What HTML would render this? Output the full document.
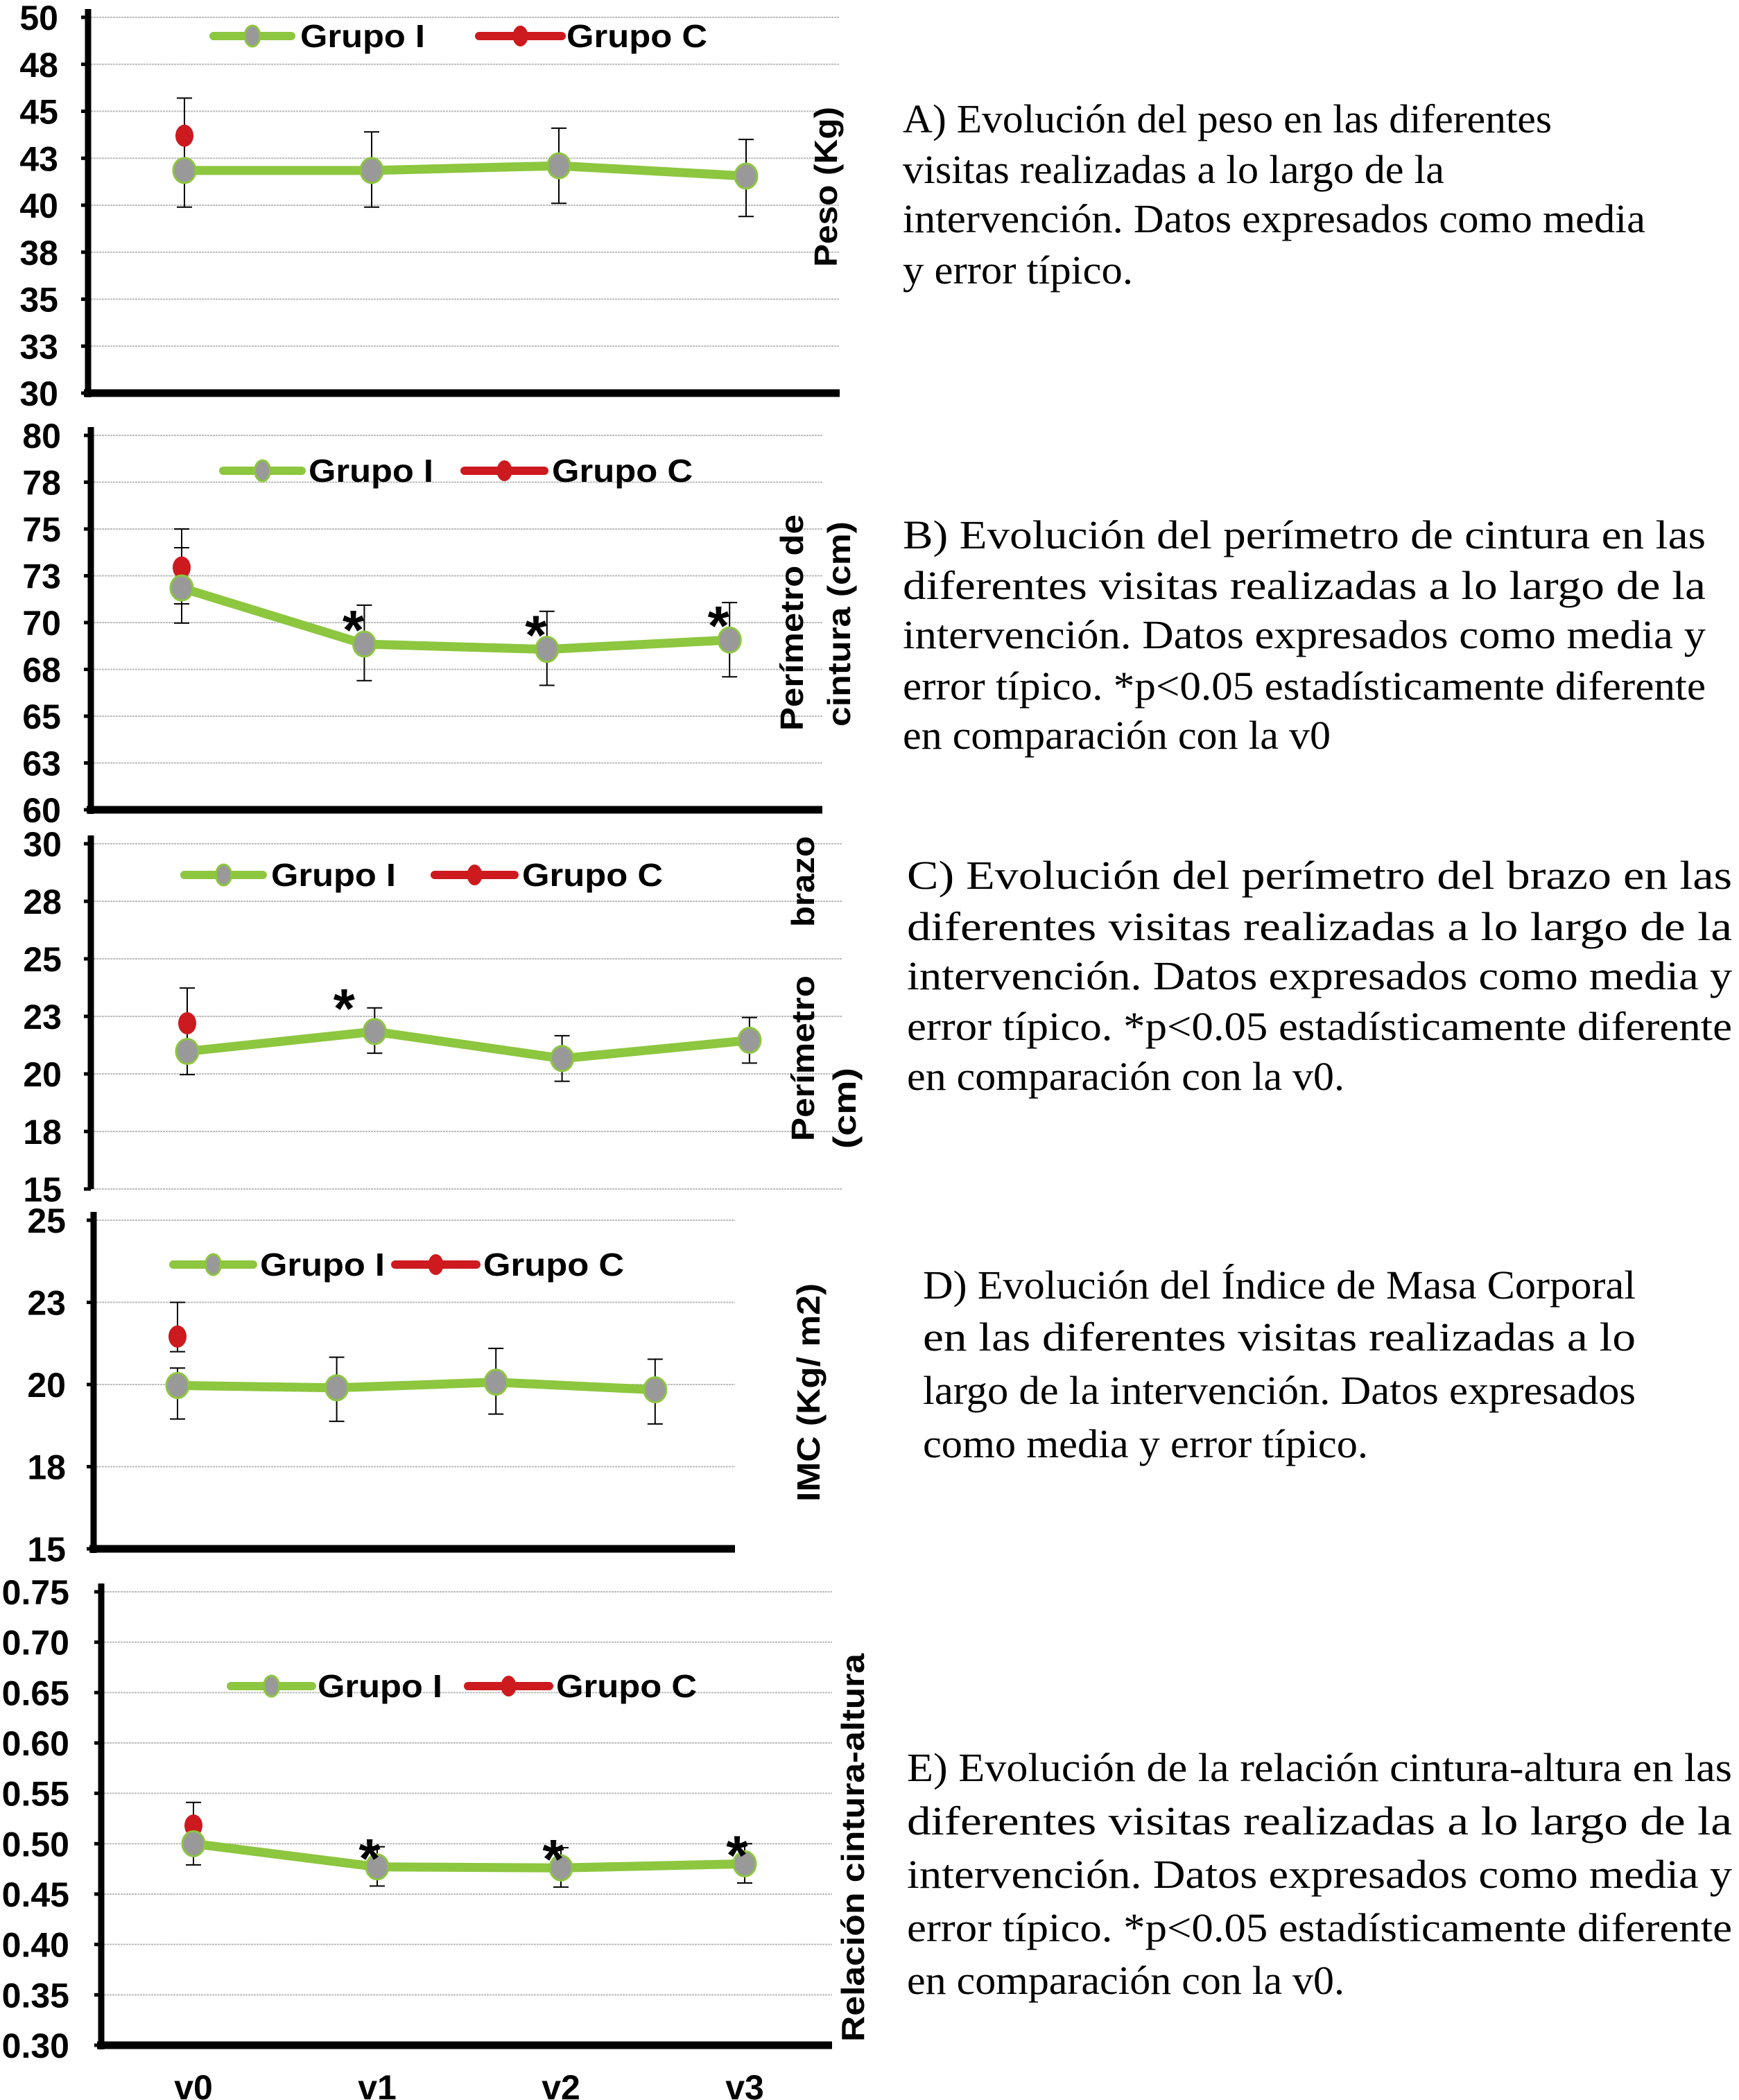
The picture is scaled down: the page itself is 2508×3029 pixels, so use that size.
<!DOCTYPE html>
<html><head><meta charset="utf-8">
<style>
html,body{margin:0;padding:0;background:#fff;}
svg{display:block;}
.tick{font-family:"Liberation Sans",sans-serif;font-weight:bold;font-size:50px;fill:#000;}
.leg{font-family:"Liberation Sans",sans-serif;font-weight:bold;font-size:46px;fill:#000;}
.ttl{font-family:"Liberation Sans",sans-serif;font-weight:bold;font-size:46px;fill:#000;}
.cap{font-family:"Liberation Serif",serif;font-size:58px;fill:#000;}
</style></head>
<body>
<svg id="fig" width="2508" height="3029" viewBox="0 0 2508 3029" xmlns="http://www.w3.org/2000/svg">
<g id="charts"></g>
<g id="captions">
 <g>
  <text class="cap" x="1302" y="191" textLength="936" lengthAdjust="spacingAndGlyphs">A) Evolución del peso en las diferentes</text>
  <text class="cap" x="1302" y="264" textLength="781" lengthAdjust="spacingAndGlyphs">visitas realizadas a lo largo de la</text>
  <text class="cap" x="1302" y="335" textLength="1071" lengthAdjust="spacingAndGlyphs">intervención. Datos expresados como media</text>
  <text class="cap" x="1302" y="409" textLength="332" lengthAdjust="spacingAndGlyphs">y error típico.</text>
 </g>
 <g>
  <text class="cap" x="1302" y="791" textLength="1158" lengthAdjust="spacingAndGlyphs">B) Evolución del perímetro de cintura en las</text>
  <text class="cap" x="1302" y="864" textLength="1158" lengthAdjust="spacingAndGlyphs">diferentes visitas realizadas a lo largo de la</text>
  <text class="cap" x="1302" y="935" textLength="1158" lengthAdjust="spacingAndGlyphs">intervención. Datos expresados como media y</text>
  <text class="cap" x="1302" y="1009" textLength="1158" lengthAdjust="spacingAndGlyphs">error típico. *p&lt;0.05 estadísticamente diferente</text>
  <text class="cap" x="1302" y="1080" textLength="617" lengthAdjust="spacingAndGlyphs">en comparación con la v0</text>
 </g>
 <g>
  <text class="cap" x="1308" y="1282" textLength="1190" lengthAdjust="spacingAndGlyphs">C) Evolución del perímetro del brazo en las</text>
  <text class="cap" x="1308" y="1356" textLength="1190" lengthAdjust="spacingAndGlyphs">diferentes visitas realizadas a lo largo de la</text>
  <text class="cap" x="1308" y="1427" textLength="1190" lengthAdjust="spacingAndGlyphs">intervención. Datos expresados como media y</text>
  <text class="cap" x="1308" y="1500" textLength="1190" lengthAdjust="spacingAndGlyphs">error típico. *p&lt;0.05 estadísticamente diferente</text>
  <text class="cap" x="1308" y="1572" textLength="631" lengthAdjust="spacingAndGlyphs">en comparación con la v0.</text>
 </g>
 <g>
  <text class="cap" x="1331" y="1873" textLength="1028" lengthAdjust="spacingAndGlyphs">D) Evolución del Índice de Masa Corporal</text>
  <text class="cap" x="1331" y="1948" textLength="1028" lengthAdjust="spacingAndGlyphs">en las diferentes visitas realizadas a lo</text>
  <text class="cap" x="1331" y="2025" textLength="1028" lengthAdjust="spacingAndGlyphs">largo de la intervención. Datos expresados</text>
  <text class="cap" x="1331" y="2102" textLength="642" lengthAdjust="spacingAndGlyphs">como media y error típico.</text>
 </g>
 <g>
  <text class="cap" x="1308" y="2569" textLength="1190" lengthAdjust="spacingAndGlyphs">E) Evolución de la relación cintura-altura en las</text>
  <text class="cap" x="1308" y="2646" textLength="1190" lengthAdjust="spacingAndGlyphs">diferentes visitas realizadas a lo largo de la</text>
  <text class="cap" x="1308" y="2723" textLength="1190" lengthAdjust="spacingAndGlyphs">intervención. Datos expresados como media y</text>
  <text class="cap" x="1308" y="2800" textLength="1190" lengthAdjust="spacingAndGlyphs">error típico. *p&lt;0.05 estadísticamente diferente</text>
  <text class="cap" x="1308" y="2876" textLength="631" lengthAdjust="spacingAndGlyphs">en comparación con la v0.</text>
 </g>
</g>
</svg>
<script>
// ---- data ----
const categories = ['v0','v1','v2','v3'];
// Panel A: Peso (Kg)
const pesoTicks = ['30','33','35','38','40','43','45','48','50'];
const pesoI = [41.85, 41.85, 42.1, 41.55];
const pesoIHi = [43.8, 43.9, 44.1, 43.5];
const pesoILo = [39.9, 39.9, 40.1, 39.4];
const pesoC = [43.7];
const pesoCHi = [45.7];
const pesoCLo = [41.7];
const pesoStars = [];
// Panel B: Perímetro de cintura
const cinturaTicks = ['60','63','65','68','70','73','75','78','80'];
const cinturaI = [71.85, 68.85, 68.57, 69.07];
const cinturaIHi = [74.0, 70.93, 70.6, 71.07];
const cinturaILo = [69.97, 66.9, 66.65, 67.1];
const cinturaC = [72.94];
const cinturaCHi = [75.0];
const cinturaCLo = [71.0];
const cinturaStars = [1, 2, 3];
// Panel C: Perímetro del brazo
const brazoTicks = ['15','18','20','23','25','28','30'];
const brazoI = [20.98, 21.84, 20.67, 21.46];
const brazoIHi = [21.96, 22.87, 21.66, 22.45];
const brazoILo = [19.97, 20.9, 19.68, 20.47];
const brazoC = [22.2];
const brazoCHi = [23.73];
const brazoCLo = [20.7];
const brazoStars = [1];
// Panel D: IMC
const imcTicks = ['15','18','20','23','25'];
const imcI = [19.97, 19.9, 20.07, 19.84];
const imcIHi = [20.5, 20.83, 21.1, 20.77];
const imcILo = [18.95, 18.88, 19.1, 18.8];
const imcC = [21.46];
const imcCHi = [22.5];
const imcCLo = [21.0];
const imcStars = [];
// Panel E: Relación cintura-altura
const rcaTicks = ['0.30','0.35','0.40','0.45','0.50','0.55','0.60','0.65','0.70','0.75'];
const rcaI = [0.50, 0.477, 0.476, 0.48];
const rcaIHi = [0.52, 0.497, 0.496, 0.50];
const rcaILo = [0.479, 0.458, 0.457, 0.461];
const rcaC = [0.518];
const rcaCHi = [0.541];
const rcaCLo = [0.495];
const rcaStars = [1, 2, 3];

const NS = 'http://www.w3.org/2000/svg';
const root = document.getElementById('charts');
function mk(tag, attrs, parent){
  const e = document.createElementNS(NS, tag);
  for (const k in attrs) e.setAttribute(k, attrs[k]);
  (parent || root).appendChild(e);
  return e;
}
const GREEN = '#8DC63F', RED = '#CC1A1F', GRAY = '#999999';

function panel(cfg){
  const g = mk('g', {});
  
  
  const min = parseFloat(cfg.ticks[0]), max = parseFloat(cfg.ticks[cfg.ticks.length-1]);
  const y = v => cfg.bottom - (v - min) / (max - min) * (cfg.bottom - cfg.top);
  const x = i => cfg.x0 + i * cfg.dx;
  cfg.ticks.forEach((t, k) => {
    const yy = cfg.bottom - k * (cfg.bottom - cfg.top) / (cfg.ticks.length - 1);
    const gl = mk('line', {x1: cfg.axisX, x2: cfg.gridRight, y1: yy, y2: yy, stroke: '#bdbdbd', 'stroke-width': 2, 'stroke-dasharray': '3 1'}, g);
    
    
    const tm = mk('line', {x1: cfg.axisX - 10, x2: cfg.axisX, y1: yy, y2: yy, stroke: '#000', 'stroke-width': 5}, g);
    
    
    const tl = mk('text', {x: cfg.labelRight, y: yy + 18, 'text-anchor': 'end', class: 'tick'}, g);
    tl.textContent = t;
    
    
  });
  const ax = mk('line', {x1: cfg.axisX, x2: cfg.axisX, y1: cfg.top - 12, y2: cfg.bottom + (cfg.bottomAxis ? 6 : 0), stroke: '#000', 'stroke-width': 9}, g);
  
  
  if (cfg.bottomAxis){
    const bx = mk('line', {x1: cfg.axisX - 6, x2: cfg.gridRight, y1: cfg.bottom, y2: cfg.bottom, stroke: '#000', 'stroke-width': 11}, g);
    
    
  }
  function err(i, hi, lo){
    const xx = x(i);
    const e = mk('g', {stroke: '#000', 'stroke-width': 2}, g);
    
    
    mk('line', {x1: xx, x2: xx, y1: y(hi), y2: y(lo)}, e);
    mk('line', {x1: xx - 11, x2: xx + 11, y1: y(hi), y2: y(hi)}, e);
    mk('line', {x1: xx - 11, x2: xx + 11, y1: y(lo), y2: y(lo)}, e);
  }
  cfg.cHi.forEach((h, i) => err(i, h, cfg.cLo[i]));
  cfg.iHi.forEach((h, i) => err(i, h, cfg.iLo[i]));
  const pts = cfg.I.map((v, i) => x(i) + ',' + y(v)).join(' ');
  const pl = mk('polyline', {points: pts, fill: 'none', stroke: GREEN, 'stroke-width': 13, 'stroke-linejoin': 'round'}, g);
  
  
  cfg.C.forEach((v, i) => {
    const c = mk('ellipse', {cx: x(i), cy: y(v), rx: 13, ry: 16, fill: RED}, g);
    
    
  });
  cfg.I.forEach((v, i) => {
    const c = mk('ellipse', {cx: x(i), cy: y(v), rx: 16, ry: 18, fill: GRAY, stroke: GREEN, 'stroke-width': 3}, g);
    
    
  });
  cfg.stars.forEach(i => {
    const s = mk('text', {x: x(i) + cfg.starDx, y: y(cfg.I[i]) + cfg.starDy + 32, 'text-anchor': 'middle', class: 'tick', style: 'font-size:80px'}, g);
    s.textContent = '*';
    
    
  });
  const L = cfg.legend, ly = L[6];
  const lg = mk('g', {}, g);
  
  
  mk('line', {x1: L[0], x2: L[1], y1: ly, y2: ly, stroke: GREEN, 'stroke-width': 12, 'stroke-linecap': 'round'}, lg);
  mk('ellipse', {cx: (L[0] + L[1]) / 2, cy: ly, rx: 11, ry: 15, fill: GRAY, stroke: GREEN, 'stroke-width': 3}, lg);
  const t1 = mk('text', {x: L[2], y: ly + 16, class: 'leg', textLength: 180, lengthAdjust: 'spacingAndGlyphs'}, lg);
  t1.textContent = 'Grupo I';
  
  
  mk('line', {x1: L[3], x2: L[4], y1: ly, y2: ly, stroke: RED, 'stroke-width': 12, 'stroke-linecap': 'round'}, lg);
  mk('ellipse', {cx: (L[3] + L[4]) / 2, cy: ly, rx: 11, ry: 15, fill: RED}, lg);
  const t2 = mk('text', {x: L[5], y: ly + 16, class: 'leg', textLength: 203, lengthAdjust: 'spacingAndGlyphs'}, lg);
  t2.textContent = 'Grupo C';
  
  
  cfg.titles.forEach(tt => {
    const cy = (tt[2] + tt[3]) / 2;
    const t = mk('text', {x: tt[1], y: cy, 'text-anchor': 'middle', 'dominant-baseline': 'central', class: 'ttl', transform: 'rotate(-90 ' + tt[1] + ' ' + cy + ')', textLength: tt[3] - tt[2], lengthAdjust: 'spacingAndGlyphs'}, g);
    t.textContent = tt[0];
    
    
  });
  if (cfg.xLabels){
    categories.forEach((c, i) => {
      const t = mk('text', {x: x(i), y: cfg.xLabelY, 'text-anchor': 'middle', class: 'tick'}, g);
      t.textContent = c;
      
      
    });
  }
}

panel({name:'chart-peso', ticks: pesoTicks, I: pesoI, iHi: pesoIHi, iLo: pesoILo, C: pesoC, cHi: pesoCHi, cLo: pesoCLo, stars: pesoStars,
  axisX:127, top:25, bottom:567, x0:266, dx:270, gridRight:1211, labelRight:84, bottomAxis:true, starDx:0, starDy:0,
  legend:[308,420,433,691,810,817,52], titles:[['Peso (Kg)',1191,154,385]]});
panel({name:'chart-cintura', ticks: cinturaTicks, I: cinturaI, iHi: cinturaIHi, iLo: cinturaILo, C: cinturaC, cHi: cinturaCHi, cLo: cinturaCLo, stars: cinturaStars,
  axisX:131, top:628, bottom:1168, x0:262, dx:263.4, gridRight:1186, labelRight:88, bottomAxis:true, starDx:-16, starDy:-25,
  legend:[322,435,445,670,785,796,679], titles:[['Perímetro de',1142,742,1054],['cintura (cm)',1210,752,1048]]});
panel({name:'chart-brazo', ticks: brazoTicks, I: brazoI, iHi: brazoIHi, iLo: brazoILo, C: brazoC, cHi: brazoCHi, cLo: brazoCLo, stars: brazoStars,
  axisX:131, top:1217, bottom:1715, x0:270, dx:270.3, gridRight:1214, labelRight:89, bottomAxis:false, starDx:-44, starDy:-38,
  legend:[266,379,391,627,742,753,1262], titles:[['brazo',1158,1206,1337],['Perímetro',1158,1407,1646],['(cm)',1218,1540,1657]]});
panel({name:'chart-imc', ticks: imcTicks, I: imcI, iHi: imcIHi, iLo: imcILo, C: imcC, cHi: imcCHi, cLo: imcCLo, stars: imcStars,
  axisX:135, top:1760, bottom:2234, x0:256, dx:229.6, gridRight:1060, labelRight:95, bottomAxis:true, starDx:0, starDy:0,
  legend:[250,365,375,570,687,697,1824], titles:[['IMC (Kg/ m2)',1166,1851,2166]]});
panel({name:'chart-relacion-cintura-altura', ticks: rcaTicks, I: rcaI, iHi: rcaIHi, iLo: rcaILo, C: rcaC, cHi: rcaCHi, cLo: rcaCLo, stars: rcaStars,
  axisX:146, top:2296, bottom:2950, x0:279, dx:265, gridRight:1200, labelRight:100, bottomAxis:true, starDx:-11, starDy:-17,
  legend:[333,450,458,675,792,802,2432], titles:[['Relación cintura-altura',1230,2385,2945]], xLabels:true, xLabelY:3028});
</script>
</body></html>
